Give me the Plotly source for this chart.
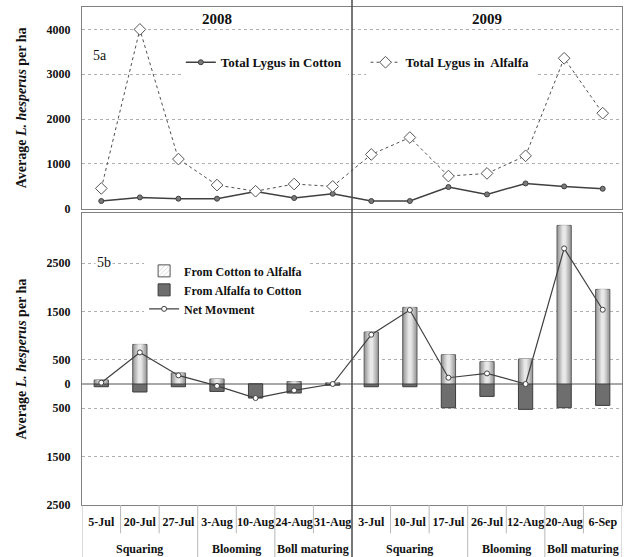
import plotly.graph_objects as go

# ---- data -------------------------------------------------------------
dates = ["5-Jul", "20-Jul", "27-Jul", "3-Aug", "10-Aug", "24-Aug", "31-Aug",
         "3-Jul", "10-Jul", "17-Jul", "26-Jul", "12-Aug", "20-Aug", "6-Sep"]
phases = ["Squaring", "Squaring", "Squaring", "Blooming", "Blooming",
          "Boll maturing", "Boll maturing",
          "Squaring", "Squaring", "Squaring", "Blooming", "Blooming",
          "Boll maturing", "Boll maturing"]
years = ["2008", "2009"]

# 5a: total Lygus per ha
lygus_cotton = [171, 252, 223, 223, 386, 238, 334,
                171, 171, 483, 319, 564, 497, 445]
lygus_alfalfa = [452, 4000, 1107, 527, 390, 550, 497,
                 1210, 1588, 728, 787, 1180, 3356, 2131]

# 5b: movement between crops
cotton_to_alfalfa = [83, 818, 227, 103, 0, 50, 25,
                     1074, 1583, 605, 461, 517, 3277, 1955]
alfalfa_to_cotton = [-56, -165, -56, -153, -290, -186, -25,
                     -56, -56, -490, -256, -524, -490, -442]
net_movement = [27, 653, 178, -40, -290, -132, 0,
                1018, 1529, 130, 219, 0, 2802, 1535]

top_ticks = [0, 1000, 2000, 3000, 4000]
bottom_ticks = [-2500, -1500, -500, 0, 500, 1500, 2500]
bottom_ticktext = ["2500", "1500", "500", "0", "500", "1500", "2500"]

# ---- style --------------------------------------------------------------
SERIF = "Liberation Serif"
DARK = "#404040"
BAR_W = 0.37
# nested widths give the light bars a soft shaded look
POS_SHADES = [(0.37, "#9c9c9c"), (0.30, "#aeaeae"), (0.23, "#c2c2c2"),
              (0.16, "#d6d6d6"), (0.09, "#e8e8e8")]

fig = go.Figure()

# 5a lines
fig.add_trace(go.Scatter(
    x=dates, y=lygus_cotton, mode="lines+markers", name="Total Lygus in Cotton",
    line=dict(color=DARK, width=1.5),
    marker=dict(symbol="circle", size=5, color="#7a7a7a", line=dict(color=DARK, width=1)),
    xaxis="x", yaxis="y", legend="legend"))
fig.add_trace(go.Scatter(
    x=dates, y=lygus_alfalfa, mode="lines+markers", name="Total Lygus in  Alfalfa",
    line=dict(color="#505050", width=1, dash="dot"),
    marker=dict(symbol="diamond", size=9, color="white", line=dict(color="#555555", width=1)),
    xaxis="x", yaxis="y", legend="legend2"))

# 5b bars
for k, (w, c) in enumerate(POS_SHADES):
    fig.add_trace(go.Bar(
        x=dates, y=cotton_to_alfalfa, width=w,
        marker=dict(color=c, line=dict(color="#5a5a5a" if k == 0 else c,
                                       width=1 if k == 0 else 0)),
        showlegend=False, hoverinfo="skip" if k else None,
        xaxis="x2", yaxis="y2"))
fig.add_trace(go.Bar(
    x=dates, y=alfalfa_to_cotton, width=BAR_W,
    marker=dict(color="#6e6e6e", line=dict(color="#3c3c3c", width=1)),
    showlegend=False, xaxis="x2", yaxis="y2"))

# legend-only entries for the bars
fig.add_trace(go.Bar(
    x=[None], y=[None], name="From Cotton to Alfalfa",
    marker=dict(color="white", line=dict(color="#555555", width=1),
                pattern=dict(shape="/", fgcolor="#8a8a8a", bgcolor="white", size=4)),
    xaxis="x2", yaxis="y2", legend="legend3"))
fig.add_trace(go.Bar(
    x=[None], y=[None], name="From Alfalfa to Cotton",
    marker=dict(color="#6e6e6e", line=dict(color="#3c3c3c", width=1)),
    xaxis="x2", yaxis="y2", legend="legend3"))

fig.add_trace(go.Scatter(
    x=dates, y=net_movement, mode="lines+markers", name="Net Movment",
    line=dict(color=DARK, width=1.2),
    marker=dict(symbol="circle", size=5, color="white", line=dict(color=DARK, width=1)),
    xaxis="x2", yaxis="y2", legend="legend3"))

# ---- axes ---------------------------------------------------------------
n = len(dates)
axis_font = dict(family=SERIF, size=12, color="#111111", weight="bold")
ytitle = "Average <i>L. hesperus</i> per ha"

fig.update_layout(
    width=624, height=557,
    margin=dict(l=82, r=2, t=7, b=52),
    paper_bgcolor="white", plot_bgcolor="white",
    barmode="overlay",
    font=dict(family=SERIF, color="#111111"),
    xaxis=dict(domain=[0, 1], anchor="y", type="category", categoryarray=dates,
               range=[-0.5, n - 0.5], showticklabels=False, ticks="",
               showline=True, mirror=True, linecolor="#808080", linewidth=1,
               showgrid=False, matches="x2"),
    yaxis=dict(domain=[0.595, 1], anchor="x", range=[0, 4500],
               tickvals=top_ticks, tickfont=axis_font, ticklabelstandoff=8,
               showline=True, mirror=True, linecolor="#808080", linewidth=1,
               showgrid=True, gridcolor="#b0b0b0", griddash="dot", gridwidth=1,
               zeroline=False, ticks="",
               title=dict(text=ytitle, font=dict(family=SERIF, size=14, weight="bold"),
                          standoff=16)),
    xaxis2=dict(domain=[0, 1], anchor="y2", type="category", categoryarray=dates,
                range=[-0.5, n - 0.5], tickfont=axis_font, ticks="", tickangle=0,
                ticklabelstandoff=6,
                showline=True, mirror=True, linecolor="#808080", linewidth=1,
                showgrid=False),
    yaxis2=dict(domain=[0, 0.586], anchor="x2", range=[-2500, 3530],
                tickvals=bottom_ticks, ticktext=bottom_ticktext, tickfont=axis_font,
                ticklabelstandoff=8,
                showline=True, mirror=True, linecolor="#808080", linewidth=1,
                showgrid=True, gridcolor="#b0b0b0", griddash="dot", gridwidth=1,
                zeroline=True, zerolinecolor="#a8a8a8", zerolinewidth=1.5, ticks="",
                title=dict(text=ytitle, font=dict(family=SERIF, size=14, weight="bold"),
                           standoff=16)),
    legend=dict(x=0.183, y=0.889, xanchor="left", yanchor="middle", bgcolor="white",
                font=dict(family=SERIF, size=13, weight="bold"), borderwidth=0),
    legend2=dict(x=0.525, y=0.889, xanchor="left", yanchor="middle", bgcolor="white",
                 font=dict(family=SERIF, size=13, weight="bold"), borderwidth=0),
    legend3=dict(x=0.115, y=0.432, xanchor="left", yanchor="middle", bgcolor="white",
                 font=dict(family=SERIF, size=12, weight="bold"), borderwidth=0,
                 tracegroupgap=0, itemwidth=30),
)

# ---- shapes: gridline mask, year divider, category separators ------------
shapes = [
    dict(type="rect", xref="paper", yref="y", x0=0.145, x1=0.865, y0=2920, y1=3080,
         fillcolor="white", line=dict(width=0), layer="between"),
    dict(type="rect", xref="paper", yref="y2", x0=0.15, x1=0.405, y0=1380, y1=2620,
         fillcolor="white", line=dict(width=0), layer="between"),
]
# year divider across the whole figure
half = n // len(years)
shapes.append(dict(type="line", xref="x2", yref="paper", x0=half - 0.5, x1=half - 0.5,
                   y0=-0.11, y1=1.02, line=dict(color="#4a4a4a", width=1.5)))
# separators below the axis: short between dates, long between growth stages
for b in range(n + 1):
    pos = b - 0.5
    if b == half:
        continue
    long_sep = b in (0, n) or phases[b] != phases[b - 1]
    shapes.append(dict(type="line", xref="x2", yref="paper", x0=pos, x1=pos,
                       y0=-0.11 if long_sep else -0.057, y1=0,
                       line=dict(color="#b8b8b8", width=1)))
fig.update_layout(shapes=shapes)

# ---- annotations ---------------------------------------------------------
ann = []
for j, yr in enumerate(years):
    ann.append(dict(text=yr, xref="x", yref="paper", x=j * half + (half - 1) / 2,
                    y=0.975, xanchor="center", yanchor="middle", showarrow=False,
                    font=dict(family=SERIF, size=15, weight="bold")))
ann.append(dict(text="5a", xref="paper", yref="paper", x=0.034, y=0.902,
                xanchor="center", yanchor="middle",
                showarrow=False, font=dict(family=SERIF, size=14)))
ann.append(dict(text="5b", xref="paper", yref="paper", x=0.040, y=0.486,
                xanchor="center", yanchor="middle",
                showarrow=False, bgcolor="white", font=dict(family=SERIF, size=14)))
# growth stage labels centred under their dates
start = 0
for i in range(1, n + 1):
    if i == n or phases[i] != phases[start] or i == half:
        ann.append(dict(text=phases[start], xref="x2", yref="paper",
                        x=(start + i - 1) / 2, y=-0.088,
                        xanchor="center", yanchor="middle", showarrow=False,
                        font=dict(family=SERIF, size=12, weight="bold")))
        start = i
fig.update_layout(annotations=ann)

fig.write_html("out.html")
